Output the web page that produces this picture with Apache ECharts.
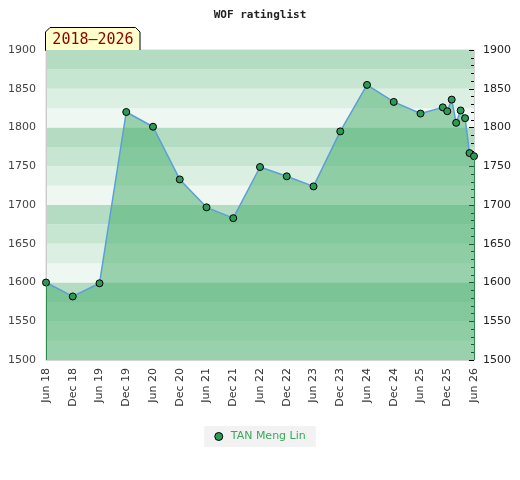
<!DOCTYPE html>
<html>
<head>
<meta charset="utf-8">
<script src="https://cdn.jsdelivr.net/npm/echarts@6/dist/echarts.min.js"></script>
<style>html,body{margin:0;padding:0;background:#fff}#c{width:520px;height:480px}</style>
</head>
<body>
<div id="c"></div>
<script>
const titleText = 'WOF ratinglist';
const periodText = '2018–2026';
const playerName = 'TAN Meng Lin';
const dates = ['2018-06','2018-12','2019-06','2019-12','2020-06','2020-12','2021-06','2021-12',
  '2022-06','2022-12','2023-06','2023-12','2024-06','2024-12','2025-06','2025-11','2025-12',
  '2026-01','2026-02','2026-03','2026-04','2026-05','2026-06'];
const ratings = [1600,1582,1599,1820,1801,1733,1697,1683,1749,1737,1724,1795,1855,1833,1818,1826,1821,
  1836,1806,1822,1812,1767,1763];
const yMin = 1500, yMax = 1900, yStep = 50;
const startYear = 2018, startMonth = 6; // Jun 2018 = 0
const monthNames = ['Jan','Feb','Mar','Apr','May','Jun','Jul','Aug','Sep','Oct','Nov','Dec'];

function monthIndex(d){
  const [y,m] = d.split('-').map(Number);
  return (y - startYear) * 12 + (m - startMonth);
}
const xs = dates.map(monthIndex);
const points = xs.map((x,i)=>[x, ratings[i]]);
const xMax = xs[xs.length-1];

function fmtX(v){
  const abs = v + (startMonth - 1);
  const y = startYear + Math.floor(abs/12);
  const m = abs % 12;
  return monthNames[m] + ' ' + String(y).slice(2);
}
const fmtY = v => String(v);

const chart = echarts.init(document.getElementById('c'), null, {renderer:'canvas'});
const labelFont = {fontFamily:'DejaVu Sans', fontSize:11};
chart.setOption({
  animation:false,
  backgroundColor:'#fff',
  title:{text:titleText, left:'center', top:5,
    textStyle:{fontFamily:'DejaVu Sans Mono', fontWeight:'bold', fontSize:11, color:'#222'}},
  grid:{left:46, right:46, top:50, bottom:120, show:true, borderColor:'#d4d4d4', borderWidth:1, backgroundColor:'transparent'},
  legend:{bottom:33, left:'center', backgroundColor:'#f2f2f2', padding:[5,10,5,10],
    itemWidth:8, itemHeight:8, itemGap:6, icon:'circle',
    textStyle:{fontFamily:'DejaVu Sans', fontSize:11, color:'#3aa85c', padding:[0,0,0,3]},
    data:[{name:playerName, itemStyle:{color:'#2e9a55', borderColor:'#000', borderWidth:1}}]},
  xAxis:{type:'value', min:0, max:xMax, interval:6,
    axisLine:{show:true, lineStyle:{color:'#d4d4d4'}},
    axisTick:{show:false}, splitLine:{show:false},
    axisLabel:Object.assign({rotate:90, color:'#333', margin:8, formatter:fmtX}, labelFont)},
  yAxis:[
    {type:'value', min:yMin, max:yMax, interval:yStep, position:'left',
      axisLine:{show:true, lineStyle:{color:'#cccccc'}}, axisTick:{show:false}, splitLine:{show:false},
      axisLabel:Object.assign({color:'#444', margin:10, formatter:fmtY}, labelFont)},
    {type:'value', min:yMin, max:yMax, interval:yStep, position:'right',
      axisLine:{show:true, lineStyle:{color:'#d4d4d4'}},
      axisTick:{show:true, inside:true, length:5, lineStyle:{color:'#000'}},
      minorTick:{show:true, splitNumber:5, length:3, lineStyle:{color:'#000'}},
      splitLine:{show:false},
      axisLabel:Object.assign({color:'#222', margin:9, formatter:fmtY}, labelFont)},
    {type:'value', min:yMin, max:yMax, interval:yStep/2, position:'left',
      axisLine:{show:false}, axisTick:{show:false}, axisLabel:{show:false}, splitLine:{show:false},
      splitArea:{show:true, areaStyle:{color:['#eef7f1','#dcefe3','#c7e6d2','#b3dcc2']}}}
  ],
  series:[{
    name:playerName, type:'line', data:points, yAxisIndex:0,
    symbol:'circle', symbolSize:7,
    itemStyle:{color:'#2e9a55', borderColor:'#000', borderWidth:1},
    lineStyle:{color:'#5a9fd6', width:1.5},
    areaStyle:{color:'rgb(65,171,104)', opacity:0.5, origin:'start'},
    markLine:{silent:true, symbol:'none', label:{show:false},
      lineStyle:{color:'#2e8b50', width:1, type:'solid'},
      data:[
        [{coord:[xs[0], yMin]},{coord:[xs[0], ratings[0]]}],
        [{coord:[xMax, yMin]},{coord:[xMax, ratings[ratings.length-1]]}]
      ]},
    z:3
  }],
  graphic:[{
    type:'group', left:45, top:27, z:10,
    children:[
      {type:'polygon', shape:{points:[[0.5,5],[5,0.5],[90.5,0.5],[95,5],[95,23.5],[0.5,23.5]]},
        style:{fill:'#ffffcc', stroke:'#000', lineWidth:1}},
      {type:'text', x:48, y:13, style:{text:periodText, fill:'#8b0000',
        font:'15px "DejaVu Sans Mono"', align:'center', verticalAlign:'middle'}}
    ]
  }]
});
</script>
</body>
</html>
